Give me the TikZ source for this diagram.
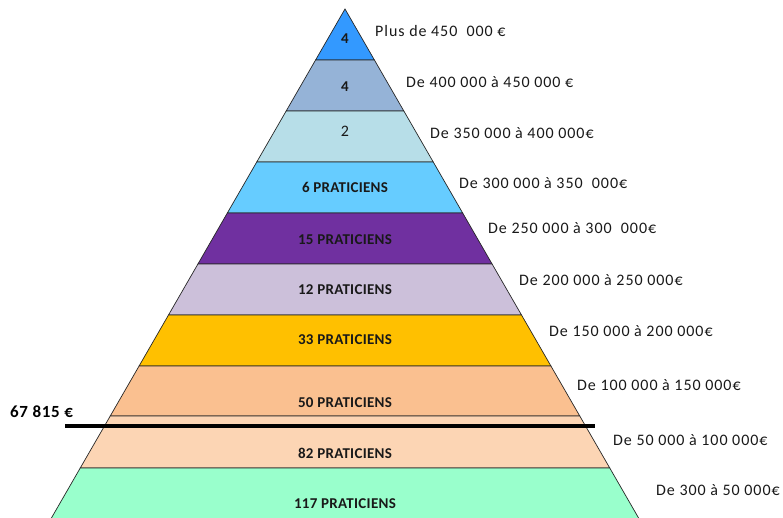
\documentclass[tikz,border=0pt]{standalone}
\usepackage{fontspec}
\setmainfont{Carlito}
\definecolor{cA}{HTML}{3399FF}
\definecolor{cB}{HTML}{95B3D7}
\definecolor{cC}{HTML}{B7DEE8}
\definecolor{cD}{HTML}{66CCFF}
\definecolor{cE}{HTML}{7030A0}
\definecolor{cF}{HTML}{CCC0DA}
\definecolor{cG}{HTML}{FFC000}
\definecolor{cH}{HTML}{FAC090}
\definecolor{cI}{HTML}{FCD5B4}
\definecolor{cJ}{HTML}{99FFCC}
\tikzset{
  layer/.style={draw=black!85, line width=0.7pt},
  inlab/.style={font=\fontsize{15}{15}\selectfont\bfseries\addfontfeature{LetterSpace=2}, text=black!90, inner sep=0pt},
  rlab/.style={font=\fontsize{16}{16}\selectfont\addfontfeature{LetterSpace=6}, text=black!90, anchor=west, inner sep=0pt},
  cut/.style={line width=3.5pt, black}
}
\newcommand{\trap}[3]{%
  \pgfmathsetmacro\wa{0.5768*(#1-9)}%
  \pgfmathsetmacro\wb{0.5768*(#2-9)}%
  \fill[#3] (345-\wa,#1) -- (345+\wa,#1) -- (345+\wb,#2) -- (345-\wb,#2) -- cycle;
  \draw[layer] (345-\wa,#1) -- (345+\wa,#1) -- (345+\wb,#2) -- (345-\wb,#2) -- cycle;
}
\begin{document}
\begin{tikzpicture}[x=1pt,y=-1pt]
\useasboundingbox (0,0) rectangle (783,517);
\begin{scope}
\clip (0,0) rectangle (783,517);
\trap{9}{60}{cA}
\trap{60}{111}{cB}
\trap{111}{162}{cC}
\trap{162}{213}{cD}
\trap{213}{264}{cE}
\trap{264}{315}{cF}
\trap{315}{366}{cG}
\trap{366}{416}{cH}
\trap{416}{468}{cI}
\trap{468}{520}{cJ}
\end{scope}
\node[inlab] (l1) at (345,39) {4};
\node[inlab] (l2) at (345,87) {4};
\node[inlab, font=\fontsize{16}{16}\selectfont] (l3) at (345,131) {2};
\node[inlab] (l4) at (345,187) {6 PRATICIENS};
\node[inlab] (l5) at (345,240) {15 PRATICIENS};
\node[inlab] (l6) at (345,290) {12 PRATICIENS};
\node[inlab] (l7) at (345,340) {33 PRATICIENS};
\node[inlab] (l8) at (345,403) {50 PRATICIENS};
\node[inlab] (l9) at (345,453) {82 PRATICIENS};
\node[inlab] (l10) at (345,504) {117 PRATICIENS};
\coordinate (cl) at (65,426);
\coordinate (cr) at (595,426);
\draw[cut] (cl) -- (cr);
\node[font=\fontsize{17}{17}\selectfont\bfseries\addfontfeature{LetterSpace=4}, anchor=west, inner sep=0pt] (thr) at (10,412) {67 815 €};
\node[rlab] (r1) at (375,31) {Plus de 450\ \ 000 €};
\node[rlab] (r2) at (406,82) {De 400 000 à 450 000 €};
\node[rlab] (r3) at (430,133) {De 350 000 à 400 000€};
\node[rlab] (r4) at (459,183) {De 300 000 à 350\ \ 000€};
\node[rlab] (r5) at (488,228) {De 250 000 à 300\ \ 000€};
\node[rlab] (r6) at (519,280) {De 200 000 à 250 000€};
\node[rlab] (r7) at (549,331) {De 150 000 à 200 000€};
\node[rlab] (r8) at (577,385) {De 100 000 à 150 000€};
\node[rlab] (r9) at (613,440) {De 50 000 à 100 000€};
\node[rlab] (r10) at (656,490) {De 300 à 50 000€};
\end{tikzpicture}
\end{document}
